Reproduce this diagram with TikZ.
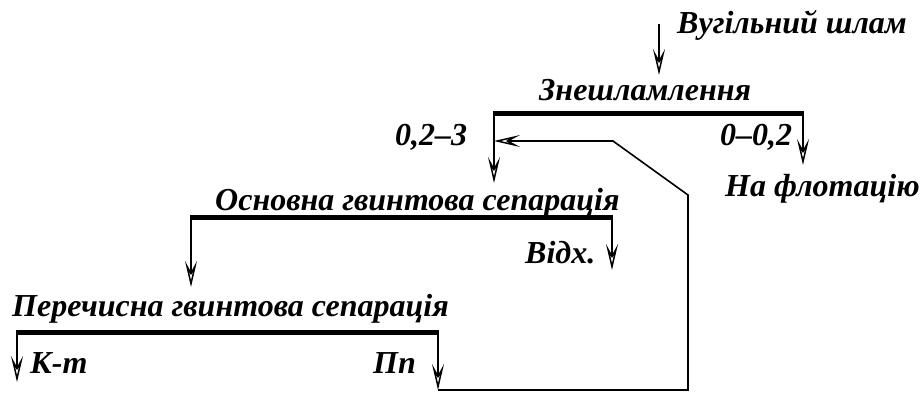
\documentclass[tikz,border=0pt]{standalone}
\usepackage{fontspec}
\setmainfont{Liberation Serif}
\usetikzlibrary{arrows.meta}
\tikzset{
  lbl/.style={anchor=base west, inner sep=0pt, font=\fontsize{32}{36}\selectfont\bfseries\itshape},
  bar/.style={line width=5pt},
  ln/.style={line width=1.6pt},
  arr/.style={ln, -{Stealth[open, length=26pt, width=12pt, inset=11pt, line width=1.5pt]}}
}
\begin{document}
\begin{tikzpicture}[x=1pt,y=-1pt]
\useasboundingbox (0,0) rectangle (923,392);
% texts
\node[lbl] (feed) at (677,33) {Вугільний шлам};
\node[lbl] (t1) at (539,100) {Знешламлення};
\node[lbl] (c1) at (395,145) {0,2–3};
\node[lbl] (f1) at (720,145) {0–0,2};
\node[lbl] (flot) at (725,196) {На флотацію};
\node[lbl] (t2) at (215,210) {Основна гвинтова сепарація};
\node[lbl] (w2) at (525,263) {Відх.};
\node[lbl] (t3) at (12,316) {Перечисна гвинтова сепарація};
\node[lbl] (k3) at (30,373) {К-т};
\node[lbl] (p3) at (373,373) {Пп};
% coordinates
\coordinate (fs) at (659,24);
\coordinate (fe) at (659,75);
\coordinate (b1l) at (494,113);
\coordinate (b1r) at (803,113);
\coordinate (b1le) at (494,183);
\coordinate (b1re) at (803,165);
\coordinate (b2l) at (191,217);
\coordinate (b2r) at (612,217);
\coordinate (b2le) at (191,287);
\coordinate (b2re) at (612,270);
\coordinate (b3l) at (17,332);
\coordinate (b3r) at (438,332);
\coordinate (b3le) at (17,382);
\coordinate (b3re) at (438,390);
\coordinate (r1) at (688,390);
\coordinate (r2) at (688,195);
\coordinate (r3) at (613,141);
\coordinate (r4) at (494,141);
% feed
\draw[arr] (fs) -- (fe);
% bars
\draw[bar] ([xshift=-0.8pt]b1l) -- ([xshift=0.8pt]b1r);
\draw[bar] ([xshift=-0.8pt]b2l) -- ([xshift=0.8pt]b2r);
\draw[bar] ([xshift=-0.8pt]b3l) -- ([xshift=0.8pt]b3r);
% products
\draw[arr] (b1l) -- (b1le);
\draw[arr] (b1r) -- (b1re);
\draw[arr] (b2l) -- (b2le);
\draw[arr] (b2r) -- (b2re);
\draw[arr] (b3l) -- (b3le);
\draw[arr] (b3r) -- (b3re);
% recycle
\draw[arr, line join=miter] (b3re) -- (r1) -- (r2) -- (r3) -- (r4);
\end{tikzpicture}
\end{document}
